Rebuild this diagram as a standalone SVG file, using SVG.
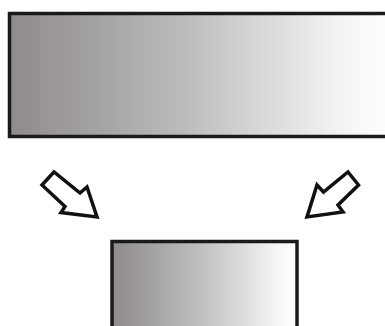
<svg xmlns="http://www.w3.org/2000/svg" width="385" height="326" viewBox="0 0 385 326">
  <defs>
    <linearGradient id="gTop" x1="0" y1="0" x2="1" y2="0">
      <stop offset="0" stop-color="#8e8a8e"/>
      <stop offset="0.45" stop-color="#bdbbbe"/>
      <stop offset="0.85" stop-color="#f4f4f4"/>
      <stop offset="1" stop-color="#ffffff"/>
    </linearGradient>
    <linearGradient id="gBot" x1="0" y1="0" x2="1" y2="0">
      <stop offset="0" stop-color="#8e8a8e"/>
      <stop offset="0.5" stop-color="#c2c1c3"/>
      <stop offset="0.9" stop-color="#f6f6f6"/>
      <stop offset="1" stop-color="#ffffff"/>
    </linearGradient>
    <style>
      .box { stroke: #1a1a1a; stroke-width: 3.5; }
      .arrow { fill: #ffffff; stroke: #111111; stroke-width: 3.5; stroke-linejoin: miter; }
    </style>
  </defs>
  <rect width="385" height="326" fill="#ffffff"/>
  <g id="top-box">
    <rect class="box" x="9.5" y="13.5" width="390" height="123" fill="url(#gTop)"/>
  </g>
  <g id="bottom-box">
    <rect class="box" x="112" y="241.5" width="185" height="100" fill="url(#gBot)"/>
  </g>
  <g id="connectors">
    <polygon class="arrow" points="54,172 42,185 65,206.5 61,212.5 97,217 87,187 80,193"/>
    <polygon class="arrow" points="348,172 358.5,185 338,205 343,212 307,217 317,185 323.5,192"/>
  </g>
</svg>
